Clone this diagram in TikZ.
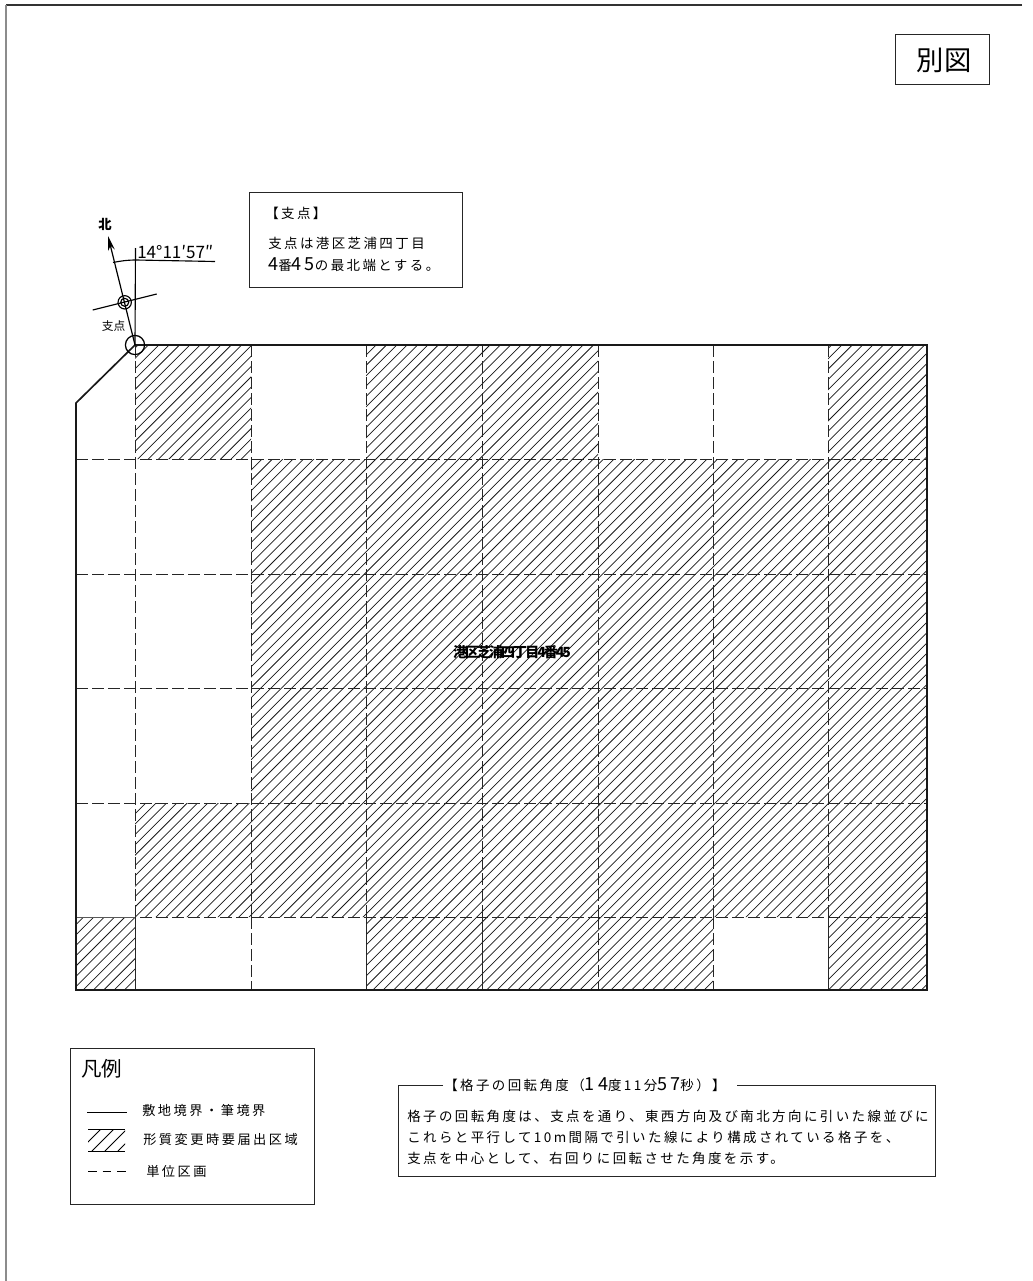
\documentclass[tikz,border=0pt]{standalone}
\usepackage{fontspec}
\setmainfont{Noto Sans CJK JP}
\usetikzlibrary{arrows.meta}
\newcommand{\wided}[1]{{\fontsize{13.5pt}{14pt}\selectfont #1}}
\tikzset{
  boundary/.style={line width=1.25pt,black!90},
  gridline/.style={line width=0.75pt,black!85,dash pattern=on 9pt off 3pt},
  hatchline/.style={line width=0.55pt,black!90},
  frameline/.style={line width=0.85pt,black!80},
  boxframe/.style={line width=0.75pt,black!85},
  jp/.style={anchor=west,inner sep=0pt,font=\fontsize{10.1pt}{11pt}\selectfont\addfontfeature{LetterSpace=18}},
  jpn/.style={anchor=west,inner sep=0pt,font=\fontsize{9.9pt}{11pt}\selectfont\addfontfeature{LetterSpace=19}}
}
\begin{document}
\begin{tikzpicture}[x=0.75pt,y=-0.75pt]
\useasboundingbox (0,0) rectangle (1032,1281);
\fill[white] (0,0) rectangle (1032,1281);
% page frame
\coordinate (pageTL) at (6,5);
\coordinate (pageTR) at (1022,5);
\coordinate (pageBL) at (6,1281);
\draw[frameline] (pageTR) -- (pageTL);
\draw[black!45,line width=0.9pt] (pageTL) -- (pageBL);
% hatching
\begin{scope}
\clip (135,345) rectangle (251,459)
      (366,345) rectangle (598,459)
      (828,345) rectangle (927,459)
      (251,459) rectangle (927,803)
      (135,803) rectangle (927,917)
      (76,917) rectangle (135,990)
      (366,917) rectangle (713,990)
      (828,917) rectangle (927,990);
\foreach \c in {0,...,145}{
  \pgfmathsetmacro{\xa}{421+\c*10.35-990}
  \pgfmathsetmacro{\xb}{421+\c*10.35-345}
  \draw[hatchline] (\xa,990) -- (\xb,345);
}
\end{scope}
% grid
\foreach \x in {135,251,366,482,598,713,828}{
  \coordinate (vt\x) at (\x,345);
  \coordinate (vb\x) at (\x,917);
  \draw[gridline] (vt\x) -- (vb\x);
}
\foreach \y in {459,574,688,803,917}{
  \coordinate (hl\y) at (76,\y);
  \coordinate (hr\y) at (927,\y);
  \draw[gridline] (hl\y) -- (hr\y);
}
\coordinate (v251b) at (251,990);
\coordinate (v598b) at (598,990);
\coordinate (v713b) at (713,990);
\draw[gridline] (vb251) -- (v251b);
\draw[gridline] (vb598) -- (v598b);
\draw[gridline] (vb713) -- (v713b);
\foreach \x in {135,366,482,828}{
  \coordinate (vs\x) at (\x,990);
  \draw[line width=0.7pt,black!85] (vb\x) -- (vs\x);
}
\draw[line width=0.7pt,black!65] (hl917) -- (vb135);
% boundary
\coordinate (bA) at (135,345);
\coordinate (bB) at (927,345);
\coordinate (bC) at (927,990);
\coordinate (bD) at (76,990);
\coordinate (bE) at (76,403);
\draw[boundary] (bA) -- (bB) -- (bC) -- (bD) -- (bE) -- (bA);
% compass
\node[circle,draw,line width=0.95pt,minimum size=14.4pt,inner sep=0pt] (pivot) at (135,345) {};
\node[circle,draw,line width=0.85pt,minimum size=10pt,inner sep=0pt] (north) at (124.7,302.3) {};
\node[circle,draw,line width=0.85pt,minimum size=6pt,inner sep=0pt] (northin) at (124.7,302.3) {};
\coordinate (tip) at (108,236);
\coordinate (crossL) at (92.7,310);
\coordinate (crossR) at (156.7,294);
\coordinate (vtop) at (135.5,248);
\coordinate (arcS) at (113,262.5);
\coordinate (arcM) at (136,260);
\coordinate (arcE) at (215,261.5);
\draw[line width=0.9pt,-{Stealth[length=11pt,width=5pt]}] (pivot.center) -- (tip);
\draw[line width=0.85pt] (crossL) -- (crossR);
\draw[line width=0.85pt] (pivot.center) -- (vtop);
\draw[line width=0.85pt] (arcS) .. controls (120,261) and (128,260) .. (arcM) -- (arcE);
\node[anchor=west,inner sep=0pt,font=\fontsize{12.8pt}{14pt}\selectfont] (angle) at (137,252) {14°11′57″};
\node[inner sep=0pt,font=\fontsize{10pt}{11pt}\selectfont\bfseries] (northlabel) at (105,224) {北};
\node[inner sep=0pt,font=\fontsize{8.8pt}{10pt}\selectfont] (pivotlabel) at (113.5,326) {支点};
% pivot note
\draw[boxframe] (249,192) rectangle (462,287);
\node[jp] (pn1) at (265,213) {【支点】};
\node[jp] (pn2) at (268,243) {支点は港区芝浦四丁目};
\node[jp] (pn3) at (268,265) {\wided{4}番\wided{4}\wided{5}の最北端とする。};
% centre label
\node[inner sep=0pt,font=\fontsize{10.5pt}{12pt}\selectfont\bfseries\addfontfeature{LetterSpace=-14}] (lot) at (512,652) {港区芝浦四丁目4番45};
% title box
\draw[boxframe] (895,35) rectangle (989,85);
\node[inner sep=0pt,font=\fontsize{20.5pt}{24pt}\selectfont] (title) at (944,60.5) {別図};
% legend
\draw[boxframe] (70,1048) rectangle (314,1204);
\node[inner sep=0pt,anchor=west,font=\fontsize{15.4pt}{18pt}\selectfont] (lgtitle) at (81,1069) {凡例};
\coordinate (l1a) at (87,1112);
\coordinate (l1b) at (127,1112);
\draw[line width=0.7pt] (l1a) -- (l1b);
\node[jpn] (lg1) at (142,1110) {敷地境界・筆境界};
\begin{scope}
\clip (88,1129) rectangle (125,1151);
\foreach \c in {0,...,5}{
  \pgfmathsetmacro{\xa}{1217+\c*13-1151}
  \pgfmathsetmacro{\xb}{1217+\c*13-1129}
  \draw[line width=0.7pt] (\xa,1151) -- (\xb,1129);
}
\end{scope}
\draw[line width=0.7pt] (88,1129) -- (125,1129) (88,1151) -- (125,1151);
\node[jpn] (lg2) at (143,1140) {形質変更時要届出区域};
\coordinate (l3a) at (88,1171);
\coordinate (l3b) at (127,1171);
\draw[line width=0.7pt,dash pattern=on 6.5pt off 4.5pt] (l3a) -- (l3b);
\node[jpn] (lg3) at (146,1171) {単位区画};
% rotation note
\coordinate (ra) at (443,1085);
\coordinate (rb) at (398,1085);
\coordinate (rc) at (398,1176);
\coordinate (rd) at (935,1176);
\coordinate (re) at (935,1085);
\coordinate (rf) at (737,1085);
\draw[boxframe] (ra) -- (rb) -- (rc) -- (rd) -- (re) -- (rf);
\node[jp] (rt) at (444,1085) {【格子の回転角度（\wided{14}度11分\wided{57}秒）】};
\node[jp] (r1) at (407,1116) {格子の回転角度は、支点を通り、東西方向及び南北方向に引いた線並びに};
\node[jp] (r2) at (407,1137) {これらと平行して10m間隔で引いた線により構成されている格子を、};
\node[jp] (r3) at (407,1158) {支点を中心として、右回りに回転させた角度を示す。};
\end{tikzpicture}
\end{document}
